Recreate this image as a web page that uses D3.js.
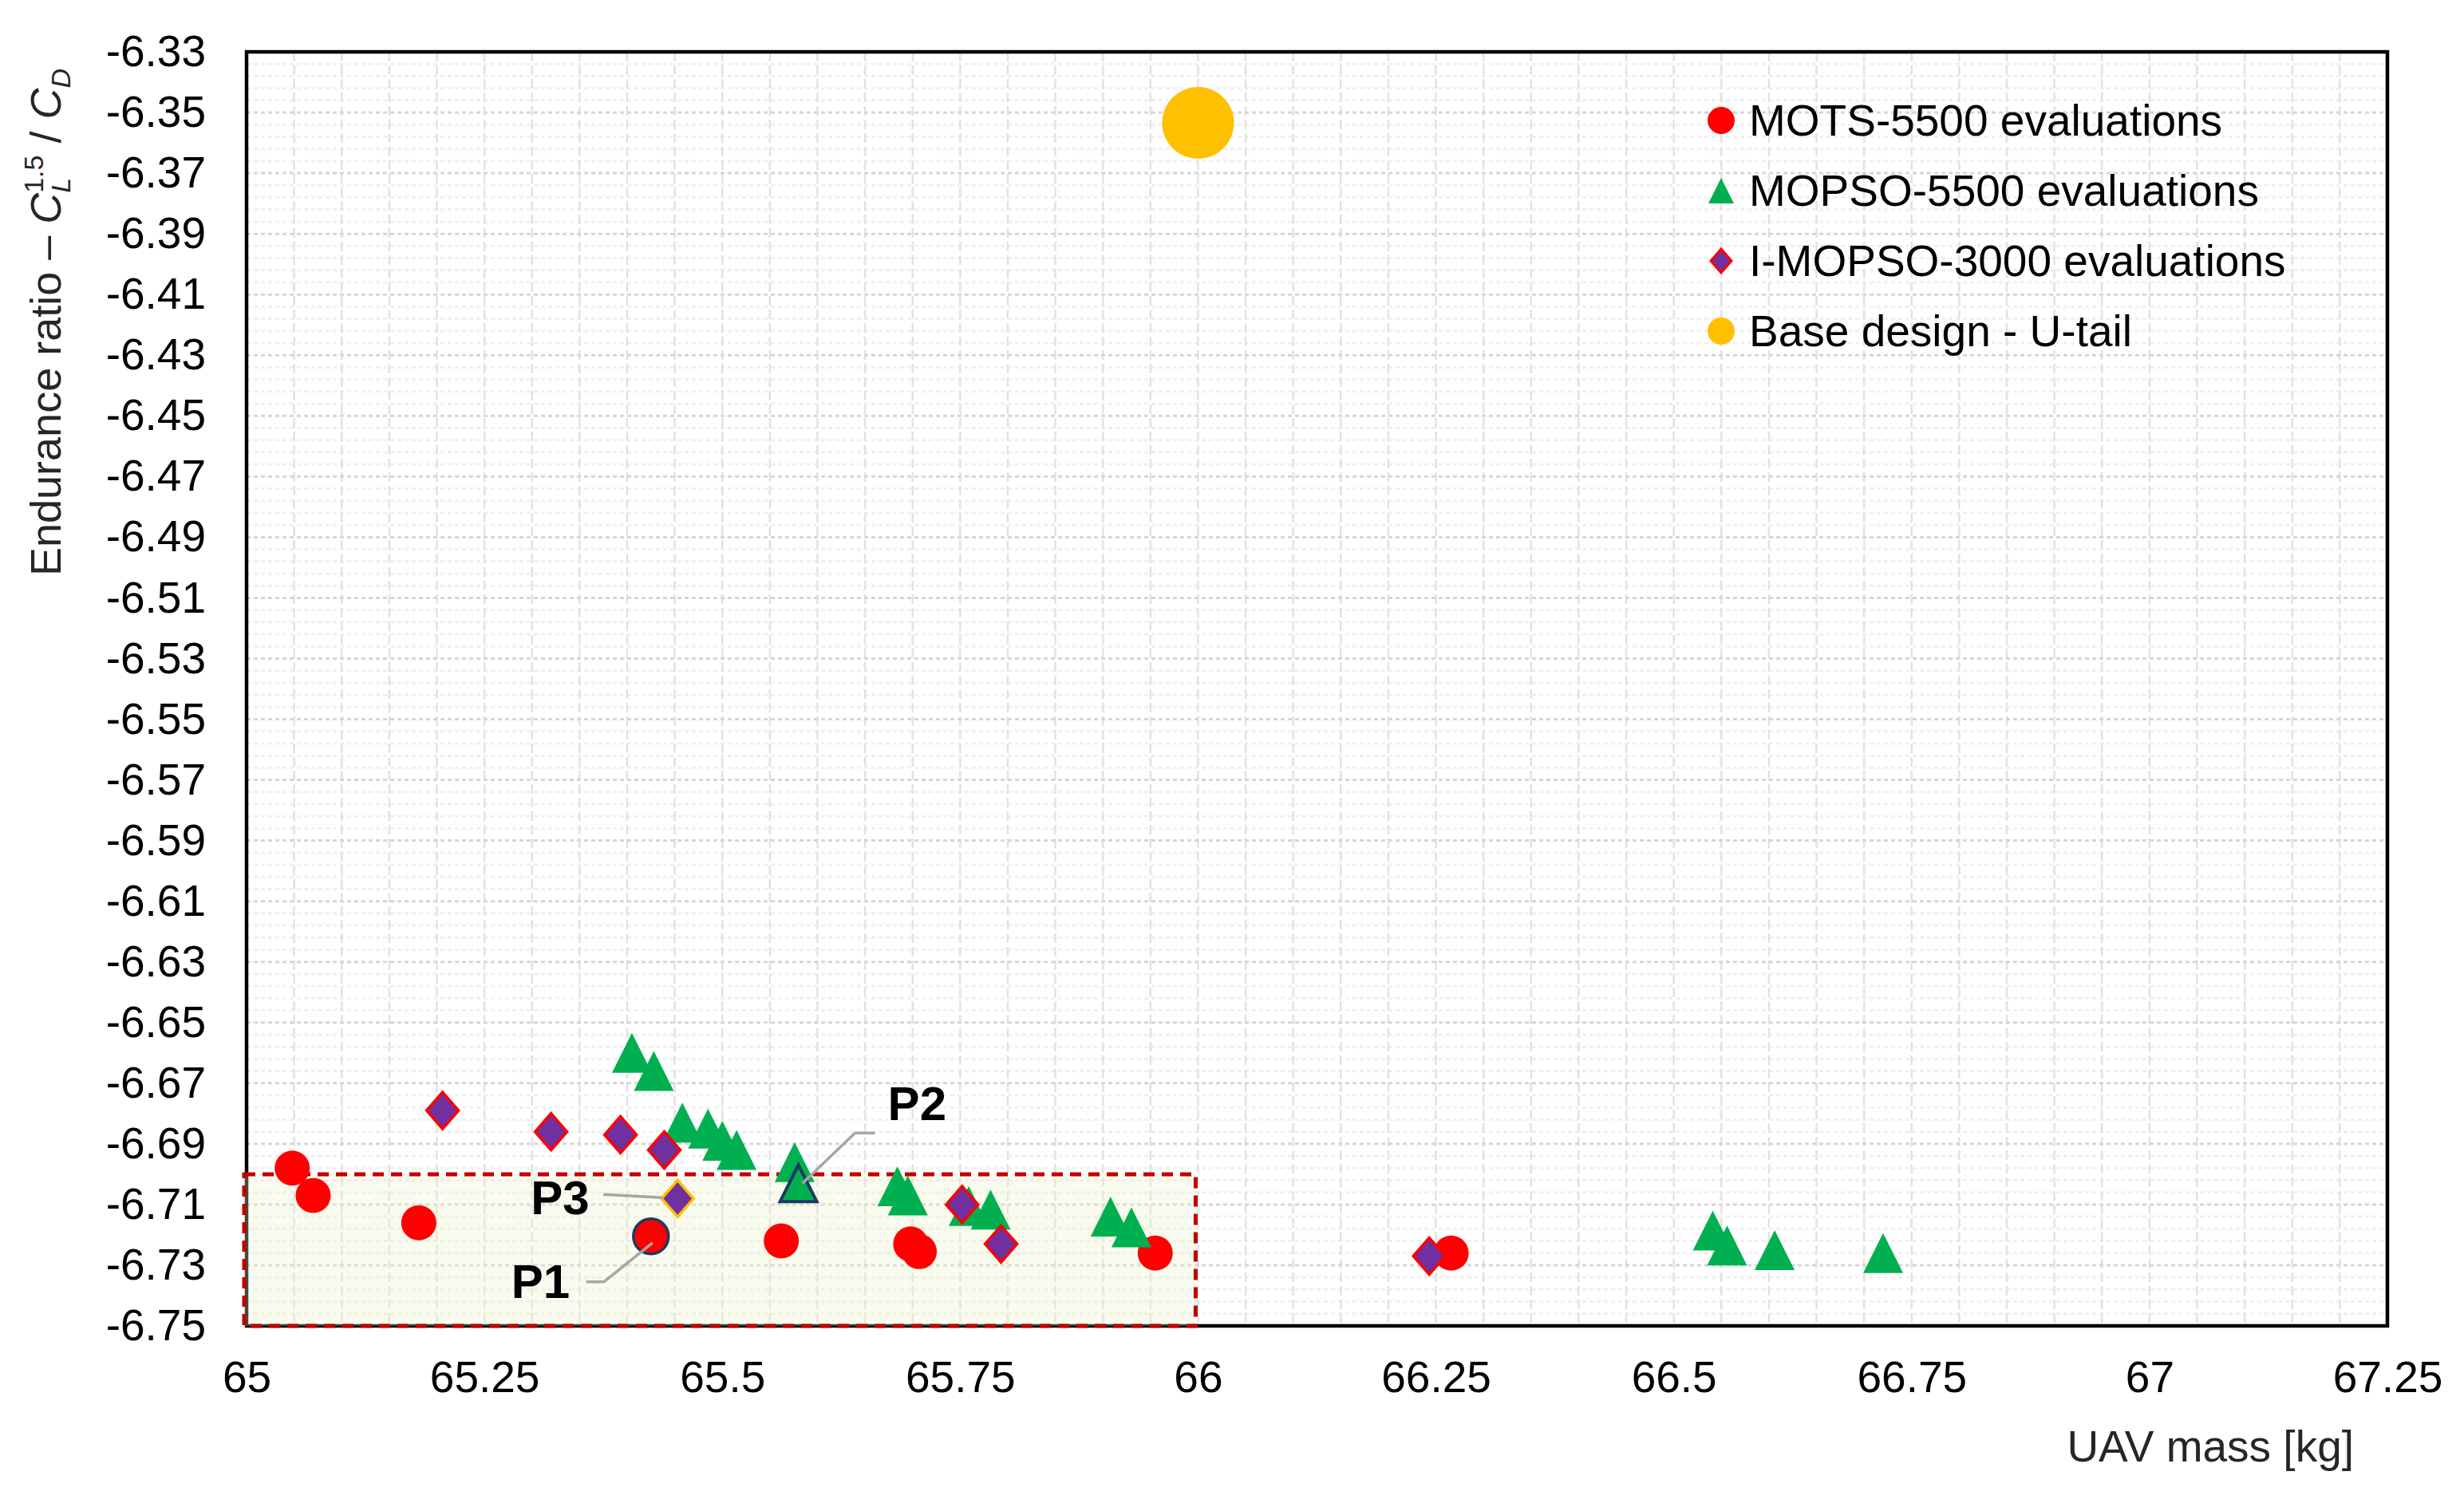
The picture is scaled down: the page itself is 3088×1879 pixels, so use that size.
<!DOCTYPE html>
<html>
<head>
<meta charset="utf-8">
<script src="https://cdn.jsdelivr.net/npm/d3@7"></script>
<style>
  body { margin: 0; background: #fff; }
  svg { display: block; font-family: "Liberation Sans", Arial, sans-serif; }
</style>
</head>
<body>
<div id="chart"></div>
<script>
// values: x = UAV mass [kg], y = endurance ratio
let motsMass  = [65.048, 65.070, 65.181, 65.562, 65.698, 65.707, 65.955, 66.266];
let motsRatio = [-6.698, -6.707, -6.716, -6.722, -6.723, -6.7255, -6.726, -6.726];

let mopsoMass  = [65.405, 65.428, 65.458, 65.485, 65.500, 65.515, 65.576, 65.684, 65.695,
                  65.759, 65.782, 65.908, 65.930, 66.541, 66.556, 66.606, 66.720];
let mopsoRatio = [-6.660, -6.666, -6.683, -6.685, -6.689, -6.692, -6.696, -6.704, -6.707,
                  -6.7105, -6.7117, -6.714, -6.7175, -6.7186, -6.7235, -6.725, -6.726];

let imopsoMass  = [65.206, 65.320, 65.393, 65.439, 65.752, 65.793, 66.243];
let imopsoRatio = [-6.679, -6.686, -6.687, -6.692, -6.710, -6.723, -6.727];

let baseMass  = [66.0];
let baseRatio = [-6.3534];

// highlighted designs
let pointNames = ["P1", "P2", "P3"];
let pointMass  = [65.425, 65.580, 65.453];
let pointRatio = [-6.7205, -6.703, -6.708];

// region of interest (dashed box)
let boxMass  = [65, 66];
let boxRatio = [-6.75, -6.70];

let legendLabels = ["MOTS-5500 evaluations", "MOPSO-5500 evaluations",
                    "I-MOPSO-3000 evaluations", "Base design - U-tail"];

let xTicks = [65, 65.25, 65.5, 65.75, 66, 66.25, 66.5, 66.75, 67, 67.25];
let yTicks = [-6.33, -6.35, -6.37, -6.39, -6.41, -6.43, -6.45, -6.47, -6.49, -6.51, -6.53,
              -6.55, -6.57, -6.59, -6.61, -6.63, -6.65, -6.67, -6.69, -6.71, -6.73, -6.75];

let width = 3088, height = 1879;
let margin = { top: 65, right: 96, bottom: 217, left: 309 };
let plotW = width - margin.left - margin.right;
let plotH = height - margin.top - margin.bottom;

let svg = d3.select("#chart")
	.append("svg")
	.attr("width", width)
	.attr("height", height);

let xScale = d3.scaleLinear().domain([65, 67.25]).range([0, plotW]);
let yScale = d3.scaleLinear().domain([-6.75, -6.33]).range([plotH, 0]);

let g = svg.append("g")
	.attr("transform", "translate(" + margin.left + "," + margin.top + ")");

// gridlines: vertical every 0.05, horizontal every 0.004 (major every 0.02)
let vGrid = d3.range(1, 45).map(i => 65 + i * 0.05);
let hGrid = d3.range(1, 105).map(i => ({ v: -6.75 + i * 0.004, major: i % 5 === 0 }));

g.append("g").selectAll("line")
	.data(hGrid.filter(d => !d.major))
	.enter().append("line")
	.attr("x1", 0).attr("x2", plotW)
	.attr("y1", d => yScale(d.v)).attr("y2", d => yScale(d.v))
	.attr("stroke", "#f0f0f0")
	.attr("stroke-width", 3)
	.attr("stroke-dasharray", "5,4");

g.append("g").selectAll("line")
	.data(vGrid)
	.enter().append("line")
	.attr("x1", d => xScale(d)).attr("x2", d => xScale(d))
	.attr("y1", 0).attr("y2", plotH)
	.attr("stroke", "#e2e2e2")
	.attr("stroke-width", 2.5)
	.attr("stroke-dasharray", "12,5");

g.append("g").selectAll("line")
	.data(hGrid.filter(d => d.major))
	.enter().append("line")
	.attr("x1", 0).attr("x2", plotW)
	.attr("y1", d => yScale(d.v)).attr("y2", d => yScale(d.v))
	.attr("stroke", "#d6d6d6")
	.attr("stroke-width", 3)
	.attr("stroke-dasharray", "5,4");

// axes
let xAxis = g.append("g")
	.attr("transform", "translate(0," + plotH + ")")
	.call(d3.axisBottom(xScale).tickValues(xTicks).tickSize(0).tickPadding(44)
		.tickFormat(d => String(+d.toFixed(2))));
xAxis.select(".domain").remove();
xAxis.selectAll("text").style("font-size", "55px").attr("fill", "#000");

let yAxis = g.append("g")
	.call(d3.axisLeft(yScale).tickValues(yTicks).tickSize(0).tickPadding(51)
		.tickFormat(d => d.toFixed(2)));
yAxis.select(".domain").remove();
yAxis.selectAll("text").style("font-size", "55px").attr("fill", "#000");

// plot frame
g.append("rect")
	.attr("width", plotW).attr("height", plotH)
	.attr("fill", "none")
	.attr("stroke", "#000")
	.attr("stroke-width", 4.5);

// dashed region box
g.append("rect")
	.attr("x", xScale(boxMass[0]) - 3)
	.attr("y", yScale(boxRatio[1]))
	.attr("width", xScale(boxMass[1]) - xScale(boxMass[0]))
	.attr("height", yScale(boxRatio[0]) - yScale(boxRatio[1]))
	.attr("fill", "#e9f2c4")
	.attr("fill-opacity", 0.3)
	.attr("stroke", "#c00000")
	.attr("stroke-width", 5)
	.attr("stroke-dasharray", "14,9");

function triPath(w, h) { return "M0," + (-h / 2) + "L" + (w / 2) + "," + (h / 2) + "L" + (-w / 2) + "," + (h / 2) + "Z"; }
function diaPath(w, h) { return "M0," + (-h / 2) + "L" + (w / 2) + ",0L0," + (h / 2) + "L" + (-w / 2) + ",0Z"; }

let pos = d => "translate(" + xScale(d[0]) + "," + yScale(d[1]) + ")";

// series
g.append("g").selectAll("circle")
	.data(d3.zip(motsMass, motsRatio))
	.enter().append("circle")
	.attr("cx", d => xScale(d[0])).attr("cy", d => yScale(d[1]))
	.attr("r", 22)
	.attr("fill", "#ff0000");

g.append("g").selectAll("path")
	.data(d3.zip(mopsoMass, mopsoRatio))
	.enter().append("path")
	.attr("transform", pos)
	.attr("d", triPath(50, 50))
	.attr("fill", "#00b050");

g.append("g").selectAll("path")
	.data(d3.zip(imopsoMass, imopsoRatio))
	.enter().append("path")
	.attr("transform", pos)
	.attr("d", diaPath(40, 46))
	.attr("fill", "#7030a0")
	.attr("stroke", "#ff0000")
	.attr("stroke-width", 3.5);

g.append("g").selectAll("circle")
	.data(d3.zip(baseMass, baseRatio))
	.enter().append("circle")
	.attr("cx", d => xScale(d[0])).attr("cy", d => yScale(d[1]))
	.attr("r", 45)
	.attr("fill", "#ffc000");

// highlighted points P1, P2, P3
let pts = d3.zip(pointMass, pointRatio);
g.append("circle")
	.attr("cx", xScale(pts[0][0])).attr("cy", yScale(pts[0][1]))
	.attr("r", 22)
	.attr("fill", "#ff0000")
	.attr("stroke", "#1f3864")
	.attr("stroke-width", 3.5);
g.append("path")
	.attr("transform", pos(pts[1]))
	.attr("d", triPath(46, 46))
	.attr("fill", "#00b050")
	.attr("stroke", "#1f3864")
	.attr("stroke-width", 4);
g.append("path")
	.attr("transform", pos(pts[2]))
	.attr("d", diaPath(40, 46))
	.attr("fill", "#7030a0")
	.attr("stroke", "#ffc000")
	.attr("stroke-width", 3.5);

// callouts: label offset and leader line, in px relative to the point
let callouts = [
	{ dx: -175, dy: 77, leader: [[-81, 57], [-59, 57], [2, 8]] },
	{ dx: 112, dy: -79, leader: [[96, -63], [71, -63], [5, 0]] },
	{ dx: -184, dy: 20, leader: [[-93, -5], [-19, -1]] }
];
callouts.forEach(function (c, i) {
	let px = xScale(pts[i][0]), py = yScale(pts[i][1]);
	g.append("path")
		.attr("d", d3.line()(c.leader.map(p => [px + p[0], py + p[1]])))
		.attr("fill", "none")
		.attr("stroke", "#a6a6a6")
		.attr("stroke-width", 3.5);
	g.append("text")
		.attr("x", px + c.dx)
		.attr("y", py + c.dy)
		.style("font-size", "60px")
		.style("font-weight", "bold")
		.attr("fill", "#000")
		.text(pointNames[i]);
});

// legend
let legend = g.append("g")
	.attr("transform", "translate(" + (2157 - margin.left) + "," + (151 - margin.top) + ")");
let legendRows = legend.selectAll("g")
	.data(legendLabels)
	.enter().append("g")
	.attr("transform", (d, i) => "translate(0," + i * 88 + ")");
legendRows.each(function (d, i) {
	let row = d3.select(this);
	if (i === 0) row.append("circle").attr("r", 17).attr("fill", "#ff0000");
	if (i === 1) row.append("path").attr("d", triPath(32, 32)).attr("fill", "#00b050");
	if (i === 2) row.append("path").attr("d", diaPath(26, 30)).attr("fill", "#7030a0")
		.attr("stroke", "#ff0000").attr("stroke-width", 3);
	if (i === 3) row.append("circle").attr("r", 17).attr("fill", "#ffc000");
});
legendRows.append("text")
	.attr("x", 35)
	.attr("dy", "0.35em")
	.style("font-size", "55px")
	.attr("fill", "#000")
	.text(d => d);

// axis titles
svg.append("text")
	.attr("x", 2950)
	.attr("y", 1832)
	.attr("text-anchor", "end")
	.style("font-size", "55px")
	.attr("fill", "#262626")
	.text("UAV mass [kg]");

let yTitle = svg.append("text")
	.attr("transform", "translate(76,404) rotate(-90)")
	.attr("text-anchor", "middle")
	.style("font-size", "54px")
	.attr("fill", "#262626");
yTitle.append("tspan").text("Endurance ratio \u2013 ");
yTitle.append("tspan").style("font-style", "italic").text("C");
yTitle.append("tspan").attr("dy", 12).style("font-size", "34px").style("font-style", "italic").text("L");
yTitle.append("tspan").attr("dx", -19).attr("dy", -34).style("font-size", "34px").text("1.5");
yTitle.append("tspan").attr("dy", 22).text(" / ");
yTitle.append("tspan").style("font-style", "italic").text("C");
yTitle.append("tspan").attr("dy", 12).style("font-size", "34px").style("font-style", "italic").text("D");
</script>
</body>
</html>
